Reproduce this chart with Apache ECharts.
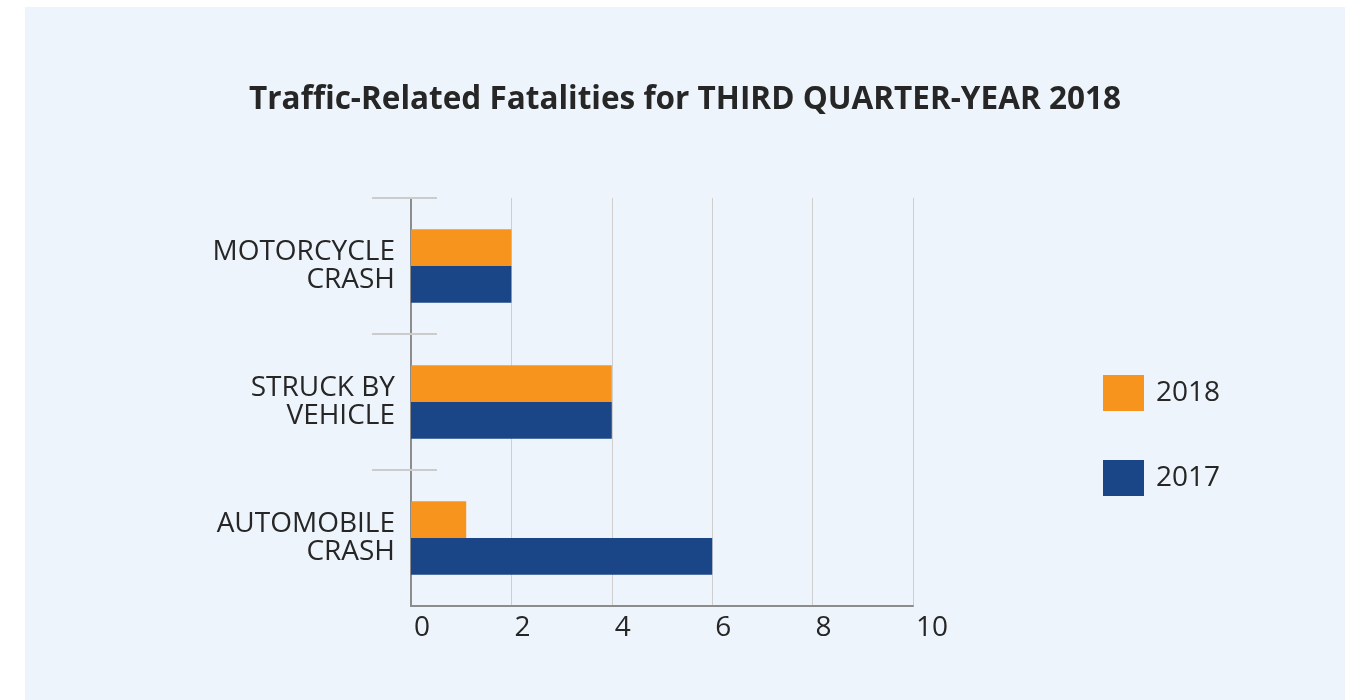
<!DOCTYPE html>
<html>
<head>
<meta charset="utf-8">
<title>Traffic-Related Fatalities</title>
<script src="https://cdn.jsdelivr.net/npm/echarts@6/dist/echarts.min.js"></script>
<style>
  html, body { margin: 0; padding: 0; background: #fff; }
  #chart {
    position: absolute;
    left: 25px;
    top: 7px;
    width: 1320px;
    height: 693px;
    background: #edf4fb;
  }
</style>
</head>
<body>
<div id="chart"></div>
<script>
// categories, top to bottom
const categories = ['MOTORCYCLE\nCRASH', 'STRUCK BY\nVEHICLE', 'AUTOMOBILE\nCRASH']
const values2018 = [2, 4, 1.1]
const values2017 = [2, 4, 6]
const xTicks = [0, 2, 4, 6, 8, 10]
// category boundaries that carry a tick (none on the bottom edge)
const bandTicks = [0, 1, 2]

const chart = echarts.init(document.getElementById('chart'))

const textColor = '#262626'
const fontFamily = '"Open Sans", sans-serif'

// hidden value axis used only to draw the small boundary ticks
const tickAxis = (inside, length) => ({
  type: 'value',
  min: 0,
  max: categories.length,
  inverse: true,
  position: 'left',
  axisLine: { show: false, onZero: false },
  axisTick: {
    show: true,
    inside: inside,
    length: length,
    customValues: bandTicks,
    lineStyle: { color: '#cccccc', width: 2 },
  },
  axisLabel: { show: false },
  splitLine: { show: false },
})

const option = {
  backgroundColor: 'transparent',
  animation: false,
  title: {
    text: 'Traffic-Related Fatalities for THIRD QUARTER-YEAR 2018',
    left: 'center',
    top: 72,
    textStyle: {
      color: textColor,
      fontFamily: fontFamily,
      fontSize: 31.5,
      fontWeight: 'bold',
    },
  },
  legend: {
    orient: 'vertical',
    left: 1073,
    top: 363,
    itemWidth: 41,
    itemHeight: 36,
    itemGap: 49,
    icon: 'rect',
    data: ['2018', '2017'],
    textStyle: {
      color: textColor,
      fontFamily: fontFamily,
      fontSize: 28,
      padding: [0, 0, 0, 7],
    },
  },
  grid: {
    left: 386,
    top: 191,
    width: 502,
    height: 408,
  },
  xAxis: {
    type: 'value',
    min: xTicks[0],
    max: xTicks[xTicks.length - 1],
    interval: 2,
    position: 'bottom',
    axisLine: { show: true, onZero: false, lineStyle: { color: '#8c8c8c', width: 2 } },
    axisTick: { show: false },
    splitLine: { lineStyle: { color: '#cfcfcf', width: 1 } },
    axisLabel: {
      color: textColor,
      fontFamily: fontFamily,
      fontSize: 28,
      align: 'left',
      margin: 8,
      padding: [0, 0, 0, 3],
    },
  },
  yAxis: [
    {
      type: 'category',
      data: categories,
      inverse: true,
      position: 'left',
      axisLine: { show: true, lineStyle: { color: '#8c8c8c', width: 2 } },
      axisTick: { show: false },
      axisLabel: {
        color: textColor,
        fontFamily: fontFamily,
        fontSize: 28,
        lineHeight: 28,
        margin: 16,
        align: 'right',
      },
    },
    tickAxis(false, 39),
    tickAxis(true, 26),
  ],
  series: [
    {
      name: '2018',
      type: 'bar',
      data: values2018,
      barCategoryGap: '46%',
      barGap: 0,
      itemStyle: { color: '#f7941d' },
    },
    {
      name: '2017',
      type: 'bar',
      data: values2017,
      barCategoryGap: '46%',
      barGap: 0,
      itemStyle: { color: '#1a4587' },
    },
  ],
}

chart.setOption(option)

window.addEventListener('resize', () => chart.resize())
</script>
</body>
</html>
